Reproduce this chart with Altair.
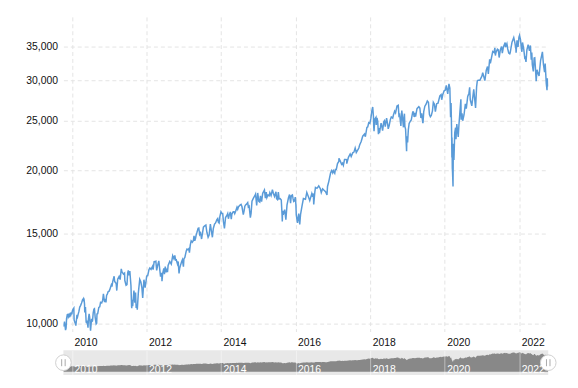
import altair as alt
import pandas as pd

# Dow Jones Industrial Average, approximate closes
# (dates given as month-day within each year)
d2009 = ["10-09", "10-14", "10-19", "10-23", "10-30", "11-04", "11-09", "11-17", "11-20", "11-25",
         "11-27", "12-03", "12-08", "12-14", "12-18", "12-24", "12-31"]
c2009 = [9865, 10016, 10092, 9972, 9713, 9803, 10227, 10437, 10318, 10465,
         10310, 10369, 10286, 10502, 10329, 10520, 10428]

d2010 = ["01-04", "01-11", "01-19", "01-22", "01-29", "02-04", "02-08", "02-12", "02-19", "02-25",
         "03-01", "03-10", "03-18", "03-26", "04-05", "04-15", "04-20", "04-26", "04-29", "05-04",
         "05-06", "05-13", "05-20", "05-25", "05-28", "06-04", "06-07", "06-11", "06-18", "06-23",
         "06-29", "07-02", "07-12", "07-16", "07-21", "07-28", "08-04", "08-09", "08-16", "08-26",
         "08-31", "09-03", "09-10", "09-21", "09-30", "10-08", "10-19", "10-29", "11-05", "11-16",
         "11-24", "11-30", "12-06", "12-13", "12-22", "12-31"]
c2010 = [10584, 10664, 10725, 10173, 10067, 10002, 9908, 10099, 10403, 10321,
         10404, 10568, 10779, 10851, 10974, 11144, 11117, 11205, 11167, 10926,
         10520, 10782, 10068, 10043, 10137, 9931, 9816, 10211, 10450, 10298,
         9870, 9686, 10216, 10097, 10120, 10497, 10680, 10698, 10303, 9985,
         10015, 10448, 10462, 10761, 10788, 11006, 10979, 11118, 11445, 11023,
         11187, 11006, 11362, 11428, 11559, 11578]

d2011 = ["01-07", "01-14", "01-26", "01-28", "02-04", "02-18", "02-23", "03-01", "03-10", "03-16",
         "03-25", "04-08", "04-18", "04-29", "05-06", "05-16", "05-20", "05-31", "06-03", "06-15",
         "06-24", "07-01", "07-07", "07-12", "07-22", "07-27", "08-02", "08-08", "08-10", "08-11",
         "08-19", "08-31", "09-09", "09-16", "09-22", "09-30", "10-03", "10-13", "10-27", "11-07",
         "11-17", "11-25", "12-07", "12-19", "12-30"]
c2011 = [11675, 11787, 11985, 11824, 12092, 12391, 12105, 12058, 11985, 11613,
         12221, 12380, 12202, 12811, 12639, 12549, 12512, 12570, 12151, 11898,
         11934, 12582, 12719, 12447, 12681, 12302, 11867, 10810, 10719, 11143,
         10817, 11614, 10992, 11509, 10733, 10913, 10655, 11478, 12209, 12068,
         11770, 11231, 12196, 11766, 12218]

d2012 = ["01-03", "01-13", "01-25", "02-03", "02-15", "02-29", "03-06", "03-16", "03-26", "04-02",
         "04-10", "04-20", "05-01", "05-09", "05-18", "05-29", "06-01", "06-08", "06-19", "06-25",
         "07-03", "07-12", "07-20", "07-25", "07-31", "08-16", "08-31", "09-14", "09-26", "10-05",
         "10-12", "10-19", "10-31", "11-07", "11-15", "11-21", "11-30", "12-11", "12-18", "12-28"]
c2012 = [12397, 12422, 12758, 12862, 12781, 12952, 12759, 13233, 13241, 13264,
         12716, 13029, 13279, 12835, 12369, 12580, 12119, 12554, 12838, 12502,
         12943, 12605, 12823, 12618, 13009, 13250, 13090, 13594, 13413, 13610,
         13328, 13344, 13096, 13245, 12543, 12836, 13026, 13248, 13351, 12938]

d2013 = ["01-02", "01-11", "01-25", "02-01", "02-11", "02-19", "02-25", "03-05", "03-14", "03-25",
         "04-05", "04-11", "04-18", "04-26", "05-03", "05-10", "05-21", "05-28", "06-05", "06-14",
         "06-24", "07-05", "07-12", "07-22", "08-05", "08-15", "08-27", "09-06", "09-18", "09-27",
         "10-08", "10-17", "10-29", "11-08", "11-21", "11-29", "12-05", "12-13", "12-20", "12-31"]
c2013 = [13412, 13488, 13896, 14009, 13972, 14035, 13784, 14254, 14539, 14448,
         14565, 14865, 14537, 14712, 14973, 15118, 15387, 15409, 14960, 15070,
         14660, 15135, 15464, 15545, 15613, 15112, 14776, 14922, 15676, 15258,
         14776, 15372, 15680, 15762, 16009, 16086, 15821, 15755, 16221, 16577]

d2014 = ["01-08", "01-17", "01-24", "02-03", "02-14", "02-28", "03-07", "03-14", "03-21", "04-02",
         "04-11", "04-17", "04-30", "05-09", "05-15", "05-23", "06-06", "06-13", "06-20", "07-03",
         "07-16", "07-25", "08-07", "08-15", "08-22", "08-29", "09-05", "09-19", "09-25", "10-03",
         "10-15", "10-22", "10-31", "11-14", "11-28", "12-05", "12-16", "12-26"]
c2014 = [16462, 16458, 15879, 15373, 16154, 16322, 16452, 16065, 16303, 16573,
         16027, 16409, 16581, 16583, 16446, 16606, 16924, 16776, 16947, 17068,
         17138, 16960, 16368, 16662, 17001, 17098, 17138, 17280, 16946, 17009,
         16142, 16461, 17391, 17635, 17828, 17958, 17068, 18053]

d2015 = ["01-06", "01-15", "01-22", "02-02", "02-13", "03-02", "03-11", "03-20", "03-26", "04-06",
         "04-17", "04-24", "05-06", "05-19", "05-29", "06-09", "06-23", "06-29", "07-08", "07-16",
         "07-24", "08-03", "08-14", "08-21", "08-24", "08-27", "09-02", "09-16", "09-28", "10-09",
         "10-23", "11-03", "11-13", "11-20", "12-01", "12-08", "12-14", "12-22", "12-29"]
c2015 = [17372, 17321, 17813, 17361, 18019, 18288, 17635, 18128, 17678, 17880,
         17826, 18080, 17841, 18312, 18011, 17765, 18144, 17596, 17515, 18120,
         17569, 17598, 17477, 16460, 15871, 16655, 16351, 16739, 16001, 17084,
         17646, 17918, 17245, 17824, 17888, 17568, 17368, 17418, 17720]

d2016 = ["01-04", "01-08", "01-20", "02-01", "02-11", "02-19", "03-04", "03-18", "04-07", "04-20",
         "05-06", "05-19", "06-08", "06-16", "06-23", "06-27", "07-08", "07-14", "07-29", "08-15",
         "08-31", "09-09", "09-22", "10-06", "10-21", "11-04", "11-09", "11-22", "12-09", "12-20",
         "12-30"]
c2016 = [17149, 16346, 15766, 16449, 15660, 16392, 17006, 17602, 17542, 18096,
         17740, 17435, 18005, 17733, 18011, 17141, 18147, 18506, 18432, 18636,
         18401, 18085, 18392, 18268, 18146, 17888, 18589, 19023, 19757, 19974,
         19763]

d2017 = ["01-06", "01-19", "01-25", "02-03", "02-15", "02-28", "03-01", "03-13", "03-27", "04-05",
         "04-13", "04-25", "05-05", "05-16", "05-17", "06-02", "06-19", "06-29", "07-14", "07-26",
         "08-07", "08-18", "08-29", "09-12", "09-20", "10-05", "10-20", "11-07", "11-15", "11-30",
         "12-08", "12-18", "12-29"]
c2017 = [19964, 19732, 20069, 20071, 20611, 20812, 21116, 20881, 20551, 20648,
         20453, 20997, 21007, 20980, 20607, 21206, 21529, 21287, 21638, 21711,
         22118, 21675, 21865, 22118, 22413, 22775, 23329, 23557, 23272, 24272,
         24329, 24792, 24719]

d2018 = ["01-08", "01-17", "01-26", "02-02", "02-05", "02-08", "02-16", "02-27", "03-02", "03-09",
         "03-16", "03-23", "03-26", "04-02", "04-06", "04-18", "04-27", "05-03", "05-14", "05-21",
         "05-29", "06-11", "06-22", "06-27", "07-06", "07-17", "07-27", "08-10", "08-17", "08-29",
         "09-07", "09-21", "10-03", "10-10", "10-17", "10-29", "11-07", "11-15", "11-23", "11-30",
         "12-03", "12-07", "12-14", "12-24", "12-26", "12-31"]
c2018 = [25283, 26116, 26617, 25521, 24346, 23860, 25219, 25410, 24538, 25336,
         24947, 23534, 24202, 23644, 23933, 24748, 24311, 23930, 24899, 25013,
         24362, 25322, 24581, 24117, 24456, 25120, 25451, 25313, 25669, 26124,
         25917, 26744, 26828, 25599, 25706, 24443, 26191, 25289, 24286, 25538,
         25826, 24389, 24100, 21792, 22878, 23327]

d2019 = ["01-03", "01-10", "01-18", "01-31", "02-08", "02-22", "03-01", "03-08", "03-18", "03-22",
         "04-05", "04-23", "05-03", "05-13", "05-21", "05-31", "06-03", "06-10", "06-21", "07-03",
         "07-15", "07-26", "08-05", "08-14", "08-23", "09-03", "09-12", "09-23", "10-02", "10-15",
         "10-28", "11-15", "11-27", "12-03", "12-13", "12-27"]
c2019 = [22686, 24001, 24706, 24999, 25106, 26031, 26026, 25450, 25914, 25502,
         26425, 26656, 26505, 25324, 25877, 24815, 24819, 26062, 26719, 26966,
         27359, 27192, 25717, 25479, 25628, 26118, 27182, 26949, 26078, 27024,
         27090, 28004, 28164, 27503, 28135, 28645]

d2020 = ["01-08", "01-17", "01-31", "02-12", "02-21", "02-28", "03-04", "03-09", "03-12", "03-13",
         "03-16", "03-18", "03-23", "03-26", "04-01", "04-09", "04-17", "04-21", "04-29", "05-13",
         "05-20", "06-08", "06-11", "06-19", "06-26", "07-09", "07-22", "07-31", "08-14", "08-26",
         "09-02", "09-08", "09-23", "10-12", "10-30", "11-09", "11-16", "11-24", "12-11", "12-31"]
c2020 = [28745, 29348, 28256, 29551, 28992, 25409, 27091, 23851, 21200, 23185,
         20188, 19899, 18592, 22552, 20943, 23719, 24242, 23019, 24634, 23248,
         24575, 27572, 25128, 25871, 25016, 25706, 27005, 26428, 27931, 28332,
         29100, 27501, 26763, 28837, 26502, 29158, 29950, 30046, 30047, 30606]

d2021 = ["01-08", "01-29", "02-12", "02-24", "03-04", "03-17", "03-24", "04-16", "04-29", "05-07",
         "05-12", "05-18", "06-01", "06-10", "06-18", "06-30", "07-12", "07-19", "07-30", "08-16",
         "08-19", "09-02", "09-10", "09-20", "09-30", "10-04", "10-22", "11-08", "11-19", "11-30",
         "12-01", "12-10", "12-20", "12-29"]
c2021 = [31098, 29983, 31458, 31962, 30924, 33015, 32420, 34200, 34060, 34778,
         33587, 34060, 34575, 34466, 33290, 34503, 34996, 33962, 34935, 35625,
         34894, 35443, 34608, 33970, 33844, 34002, 35677, 36432, 35602, 34483,
         34022, 35971, 34932, 36488]

d2022 = ["01-04", "01-13", "01-24", "01-27", "02-02", "02-14", "02-24", "03-01", "03-08", "03-17",
         "03-29", "04-11", "04-20", "04-29", "05-04", "05-09", "05-19", "05-27", "06-02", "06-10",
         "06-16", "06-24", "07-01", "07-14", "07-29", "08-16", "08-26", "09-06", "09-12", "09-23",
         "09-30", "10-04", "10-12"]
c2022 = [36800, 36114, 34365, 34161, 35629, 34566, 33223, 33295, 32633, 34481,
         35294, 34308, 35160, 32977, 34061, 32245, 31253, 33213, 33248, 31393,
         29927, 31501, 31097, 30630, 32845, 34152, 32283, 31146, 32381, 29590,
         28725, 30316, 29210]

tick_years = [2010, 2012, 2014, 2016, 2018, 2020, 2022]
y_ticks = [10000, 15000, 20000, 25000, 30000, 35000]

by_year = {2009: (d2009, c2009), 2010: (d2010, c2010), 2011: (d2011, c2011), 2012: (d2012, c2012),
           2013: (d2013, c2013), 2014: (d2014, c2014), 2015: (d2015, c2015), 2016: (d2016, c2016),
           2017: (d2017, c2017), 2018: (d2018, c2018), 2019: (d2019, c2019), 2020: (d2020, c2020),
           2021: (d2021, c2021), 2022: (d2022, c2022)}
dates, closes = [], []
for yr, (d, c) in by_year.items():
    assert len(d) == len(c), (yr, len(d), len(c))
    dates += [f"{yr}-{md}" for md in d]
    closes += c

df = pd.DataFrame({"date": pd.to_datetime(dates), "close": closes})
ends = pd.DataFrame({"date": pd.to_datetime([dates[0], dates[-1]])})

FONT = "Liberation Sans"
LINE = "#5a9bd8"
GRID = "#e4e4e4"
LABEL = "#111111"
tick_vals = [alt.DateTime(year=y, month=1, date=1) for y in tick_years]

W, H = 490, 318
NAV_H = 25

main = alt.Chart(df).mark_line(color=LINE, strokeWidth=1.5, clip=True).encode(
    x=alt.X("date:T", scale=alt.Scale(nice=False),
            axis=alt.Axis(values=tick_vals, format="%Y", title=None, labelAlign="left",
                          labelOffset=2, labelPadding=6, labelFont=FONT, labelFontSize=10.5,
                          labelColor=LABEL, labelFlush=False, domain=False, ticks=False,
                          grid=True, gridColor=GRID, gridDash=[4, 3], labelOverlap=False)),
    y=alt.Y("close:Q", scale=alt.Scale(type="log", domain=[9650, 40000], nice=False),
            axis=alt.Axis(values=y_ticks, format=",.0f", title=None, labelPadding=6,
                          labelFont=FONT, labelFontSize=10.5, labelColor=LABEL,
                          domain=False, ticks=False, grid=True, gridColor=GRID,
                          gridDash=[4, 3], labelOverlap=False)),
).properties(width=W, height=H)

nav_x = alt.X("date:T", scale=alt.Scale(nice=False),
              axis=alt.Axis(values=tick_vals, format="%Y", title=None, labelAlign="left",
                            labelOffset=2, labelBaseline="alphabetic", labelPadding=-3,
                            labelFont=FONT, labelFontSize=10.5, labelColor="#ffffff",
                            labelFlush=False, domain=False, ticks=False, grid=True,
                            gridColor="#ffffff", gridOpacity=0.45, zindex=1,
                            labelOverlap=False))

nav_area = alt.Chart(df).mark_area(color="#888888", opacity=1, clip=True).encode(
    x=nav_x,
    y=alt.Y("close:Q", scale=alt.Scale(domain=[-6000, 40300], nice=False, zero=False), axis=None),
    y2=alt.value(NAV_H),
)

handles = alt.Chart(ends).mark_point(shape="circle", filled=True, fill="#ffffff", stroke="#cfcfcf",
                                     strokeWidth=1, size=250, opacity=1).encode(
    x=alt.X("date:T"), y=alt.value(NAV_H / 2))

grips = alt.Chart(ends).mark_point(shape="M-0.25,-0.5L-0.25,0.5M0.25,-0.5L0.25,0.5", filled=False,
                                   stroke="#aaaaaa", strokeWidth=1, size=200, opacity=1).encode(
    x=alt.X("date:T"), y=alt.value(NAV_H / 2))

nav = alt.layer(nav_area, handles, grips).properties(
    width=W, height=NAV_H, view=alt.ViewBackground(fill="#e8e8e8", strokeWidth=0))

chart = alt.vconcat(main, nav, spacing=19, bounds="flush").properties(
    padding={"left": 17, "top": 7, "right": 12, "bottom": 4},
    background="#ffffff",
).configure_view(strokeWidth=0)

chart.save("out.html", embed_options={"renderer": "svg", "actions": False})
